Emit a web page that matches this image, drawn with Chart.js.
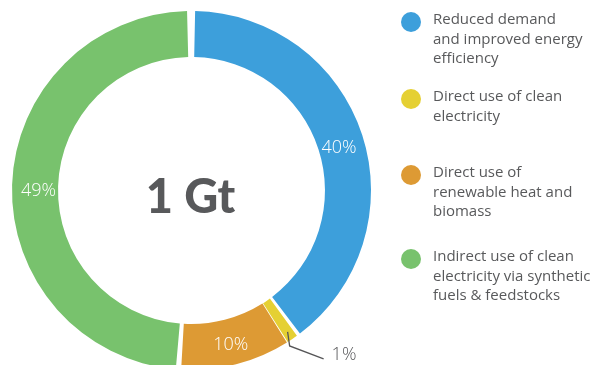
<!DOCTYPE html>
<html>
<head>
<meta charset="utf-8">
<script src="https://cdn.jsdelivr.net/npm/chart.js@4/dist/chart.umd.min.js"></script>
<style>
  html, body { margin: 0; padding: 0; background: #fff; overflow: hidden; width: 597px; height: 365px; }
  canvas { display: block; }
</style>
</head>
<body>
<canvas id="c" width="597" height="380"></canvas>
<script>
// Segment names (one array entry per wrapped legend line)
const categories = [
  ['Reduced demand', 'and improved energy', 'efficiency'],
  ['Direct use of clean', 'electricity'],
  ['Direct use of', 'renewable heat and', 'biomass'],
  ['Indirect use of clean', 'electricity via synthetic', 'fuels & feedstocks']
];
// Share of the total, in percent
const shares = [40, 1, 10, 49];
const colors = ['#3d9fdb', '#e5d033', '#dd9a34', '#78c26d'];
const centerLabel = '1 Gt';

const TEXT = '#58595b';
const legendRowY = [20, 97, 173, 257];

const overlay = {
  id: 'overlay',
  afterDatasetsDraw(chart) {
    const ctx = chart.ctx;
    const arcs = chart.getDatasetMeta(0).data;
    ctx.save();

    // centre figure
    const c0 = arcs[0];
    ctx.fillStyle = TEXT;
    ctx.font = '900 47px Lato';
    ctx.textAlign = 'center';
    ctx.textBaseline = 'middle';
    ctx.fillText(centerLabel, c0.x - 1, c0.y + 7);

    // percentage labels
    ctx.font = '300 18px "Open Sans"';
    arcs.forEach((a, i) => {
      const mid = (a.startAngle + a.endAngle) / 2;
      const text = shares[i] + '%';
      if (shares[i] >= 5) {
        const r = (a.innerRadius + a.outerRadius) / 2;
        ctx.fillStyle = '#ffffff';
        ctx.textAlign = 'center';
        ctx.textBaseline = 'middle';
        ctx.fillText(text, a.x + Math.cos(mid) * r + 1, a.y + Math.sin(mid) * r + 5);
      } else {
        // small slice: leader line to an outside label
        const r0 = a.outerRadius - 6;
        const x0 = a.x + Math.cos(mid) * r0;
        const y0 = a.y + Math.sin(mid) * r0;
        ctx.strokeStyle = '#555557';
        ctx.lineWidth = 1.3;
        ctx.beginPath();
        ctx.moveTo(x0, y0);
        ctx.lineTo(x0 + 2, y0 + 14);
        ctx.lineTo(x0 + 36, y0 + 27);
        ctx.stroke();
        ctx.fillStyle = TEXT;
        ctx.textAlign = 'left';
        ctx.textBaseline = 'middle';
        ctx.fillText(text, x0 + 44, y0 + 23);
      }
    });

    // legend
    ctx.font = '15px "Open Sans"';
    ctx.textAlign = 'left';
    ctx.textBaseline = 'middle';
    categories.forEach((lines, i) => {
      const y = legendRowY[i];
      ctx.fillStyle = colors[i];
      ctx.beginPath();
      ctx.arc(411, y + 2, 10, 0, Math.PI * 2);
      ctx.fill();
      ctx.fillStyle = TEXT;
      lines.forEach((t, j) => ctx.fillText(t, 433, y + j * 19.4));
    });
    ctx.restore();
  }
};

new Chart(document.getElementById('c'), {
  type: 'doughnut',
  data: {
    labels: categories.map(l => l.join(' ')),
    datasets: [{
      data: shares,
      backgroundColor: colors,
      borderWidth: 0,
      spacing: 5,
      radius: 177,
      cutout: '74%'
    }]
  },
  options: {
    responsive: false,
    animation: false,
    layout: { padding: { left: 1, right: 215, top: 1, bottom: 0 } },
    plugins: { legend: { display: false }, tooltip: { enabled: false } },
    events: []
  },
  plugins: [overlay]
});
</script>
</body>
</html>
